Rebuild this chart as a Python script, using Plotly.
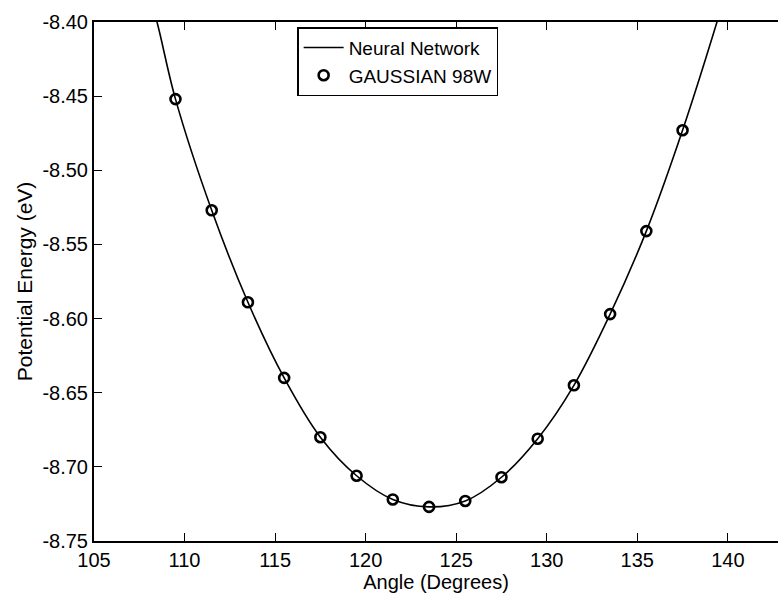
import plotly.graph_objects as go

# GAUSSIAN 98W reference points
angles = [109.5, 111.5, 113.5, 115.5, 117.5, 119.5, 121.5, 123.5, 125.5, 127.5, 129.5, 131.5, 133.5, 135.5, 137.5]
gauss_energy = [-8.452, -8.527, -8.589, -8.640, -8.680, -8.706, -8.722, -8.727, -8.723, -8.707, -8.681, -8.645, -8.597, -8.541, -8.473]

# Neural network curve (read at markers plus ends leaving the frame)
nn_angles = [108.0, 108.5, 109.5, 111.5, 113.5, 115.5, 117.5, 119.5, 121.5, 123.5, 125.5, 127.5, 129.5, 131.5, 133.5, 135.5, 137.5, 139.4, 140.0]
nn_energy = [-8.380, -8.401, -8.452, -8.527, -8.589, -8.640, -8.680, -8.706, -8.722, -8.727, -8.723, -8.707, -8.681, -8.645, -8.597, -8.541, -8.473, -8.400, -8.375]

x_ticks = [105, 110, 115, 120, 125, 130, 135, 140]
y_ticks = [-8.75, -8.70, -8.65, -8.60, -8.55, -8.50, -8.45, -8.40]

font = "Liberation Sans, Arial, sans-serif"

fig = go.Figure()
fig.add_trace(go.Scatter(x=nn_angles, y=nn_energy, mode="lines", name="Neural Network",
                         line=dict(color="black", width=1.6, shape="spline")))
fig.add_trace(go.Scatter(x=angles, y=gauss_energy, mode="markers", name="GAUSSIAN 98W",
                         marker=dict(symbol="circle-open", size=10, color="black",
                                     line=dict(color="black", width=2.6))))

fig.update_layout(
    width=778, height=595,
    margin=dict(l=94, r=0, t=22, b=54),
    paper_bgcolor="white", plot_bgcolor="white",
    font=dict(family=font, size=20, color="black"),
    showlegend=True,
    legend=dict(x=0.297, y=0.99, xanchor="left", yanchor="top",
                bgcolor="white", bordercolor="black", borderwidth=1.5,
                font=dict(family=font, size=19, color="black"),
                tracegroupgap=0, itemwidth=40),
)
fig.update_xaxes(
    range=[105, 142.77], tickvals=x_ticks, ticktext=[str(v) for v in x_ticks],
    showline=True, linecolor="black", linewidth=2, mirror="ticks",
    ticks="inside", ticklen=8, tickwidth=1.2, tickcolor="black",
    showgrid=False, zeroline=False,
    title=dict(text="Angle (Degrees)", font=dict(family=font, size=20), standoff=2),
)
fig.update_yaxes(
    range=[-8.75, -8.40], tickvals=y_ticks, ticktext=[f"{v:.2f}" for v in y_ticks],
    showline=True, linecolor="black", linewidth=2,
    ticks="inside", ticklen=8, tickwidth=1.2, tickcolor="black",
    showgrid=False, zeroline=False,
    title=dict(text="Potential Energy (eV)", font=dict(family=font, size=21), standoff=4),
)

fig.write_html("out.html")
